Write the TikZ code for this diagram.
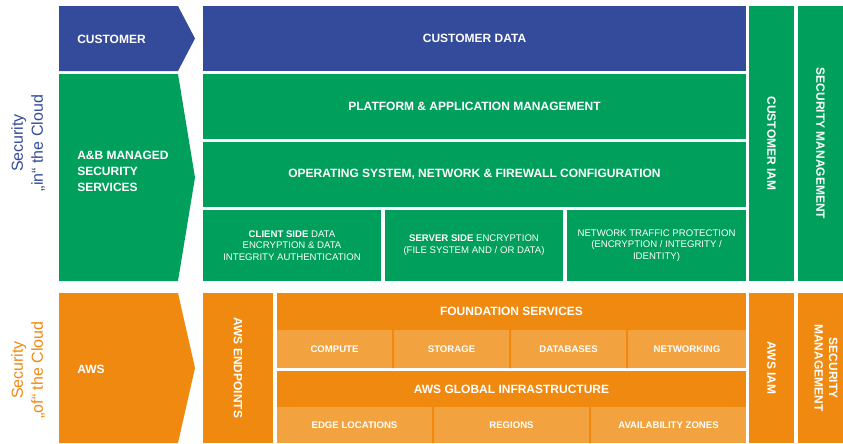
\documentclass[tikz,border=0pt]{standalone}
\usepackage{fontspec}
\setmainfont{Liberation Sans}
\definecolor{cblue}{HTML}{344A9A}
\definecolor{cgreen}{HTML}{009F5B}
\definecolor{corange}{HTML}{F0890F}
\definecolor{clight}{HTML}{F3A240}

% a filled tile spanning (x1,y1)-(x2,y2) in pixel units
\newcommand{\tile}[7]{%
  \node[#6, minimum width={(#4-#2)*0.75pt}, minimum height={(#5-#3)*0.75pt}]
    (#1) at ({(#2+#4)/2},{(#3+#5)/2}) {#7};}

\begin{document}
\begin{tikzpicture}[x=0.75pt,y=-0.75pt,
  tilebase/.style={inner sep=0pt, outer sep=0pt, text=white, align=center},
  head/.style={tilebase, font=\fontsize{9}{11}\selectfont\bfseries},
  small/.style={tilebase, font=\fontsize{7.2}{8.8}\selectfont},
  smallb/.style={tilebase, font=\fontsize{7.2}{8.8}\selectfont\bfseries},
  bluetile/.style={head, fill=cblue},
  greentile/.style={head, fill=cgreen},
  greensmall/.style={small, fill=cgreen},
  orangetile/.style={head, fill=corange},
  lighttile/.style={smallb, fill=clight},
  lefttext/.style={text=white, inner sep=0pt, align=left, anchor=west,
    font=\fontsize{9}{12}\selectfont\bfseries},
  sidetext/.style={inner sep=0pt, align=center, rotate=90,
    font=\fontsize{12}{15}\selectfont},
  vert/.style={rotate=-90}]
\useasboundingbox (0,0) rectangle (843,443);

% chevrons of the left column
\fill[cblue]   (59,6)   -- (178,6)   -- (195,38.5)  -- (178,71)  -- (59,71)  -- cycle;
\fill[cgreen]  (59,74)  -- (178,74)  -- (195,177.5) -- (178,281) -- (59,281) -- cycle;
\fill[corange] (59,293) -- (178,293) -- (195,368)   -- (178,443) -- (59,443) -- cycle;
\node[lefttext] (customer) at (77,39) {CUSTOMER};
\node[lefttext] (managed) at (77,171) {A\&B MANAGED\\SECURITY\\SERVICES};
\node[lefttext] (aws) at (77,369) {AWS};

% side captions
\node[sidetext, text=cblue] (incloud) at (28,143) {Security\\„in“ the Cloud};
\node[sidetext, text=corange] (ofcloud) at (28,370) {Security\\„of“ the Cloud};

% customer responsibility
\tile{cdata}{203}{6}{746}{71}{bluetile}{CUSTOMER DATA}
\tile{platform}{203}{74}{746}{139}{greentile}{PLATFORM \& APPLICATION MANAGEMENT}
\tile{os}{203}{142}{746}{207}{greentile}{OPERATING SYSTEM, NETWORK \& FIREWALL CONFIGURATION}
\tile{client}{203}{210}{381}{281}{greensmall}{\textbf{CLIENT SIDE} DATA\\ENCRYPTION \& DATA\\INTEGRITY AUTHENTICATION}
\tile{server}{385}{210}{563}{281}{greensmall}{\textbf{SERVER SIDE} ENCRYPTION\\(FILE SYSTEM AND / OR DATA)}
\tile{traffic}{567}{210}{746}{281}{greensmall}{NETWORK TRAFFIC PROTECTION\\(ENCRYPTION / INTEGRITY /\\IDENTITY)}
\tile{ciam}{749}{6}{794}{281}{greentile}{}
\node[head, vert] (ciamtext) at (ciam) {CUSTOMER IAM};
\tile{secmg}{798}{6}{843}{281}{greentile}{}
\node[head, vert] (secmgtext) at (secmg) {SECURITY MANAGEMENT};

% AWS responsibility
\tile{endpoints}{203}{293}{273}{443}{orangetile}{}
\node[head, vert] (endpointstext) at (endpoints) {AWS ENDPOINTS};
\tile{foundation}{277}{293}{746}{330}{orangetile}{FOUNDATION SERVICES}
\tile{compute}{277}{330}{392}{368}{lighttile}{COMPUTE}
\tile{storage}{394}{330}{509}{368}{lighttile}{STORAGE}
\tile{databases}{511}{330}{626}{368}{lighttile}{DATABASES}
\tile{networking}{628}{330}{746}{368}{lighttile}{NETWORKING}
\tile{global}{277}{371}{746}{407}{orangetile}{AWS GLOBAL INFRASTRUCTURE}
\tile{edge}{277}{407}{432}{443}{lighttile}{EDGE LOCATIONS}
\tile{regions}{434}{407}{589}{443}{lighttile}{REGIONS}
\tile{zones}{591}{407}{746}{443}{lighttile}{AVAILABILITY ZONES}
\fill[corange] (392,330) rectangle (394,368) (509,330) rectangle (511,368)
  (626,330) rectangle (628,368) (432,407) rectangle (434,443)
  (589,407) rectangle (591,443);
\tile{awsiam}{749}{293}{794}{443}{orangetile}{}
\node[head, vert] (awsiamtext) at (awsiam) {AWS IAM};
\tile{secmgaws}{798}{293}{843}{443}{orangetile}{}
\node[head, vert] (secmgawstext) at ([xshift=5.5*0.75pt]secmgaws.center) {SECURITY\\MANAGEMENT};
\end{tikzpicture}
\end{document}
